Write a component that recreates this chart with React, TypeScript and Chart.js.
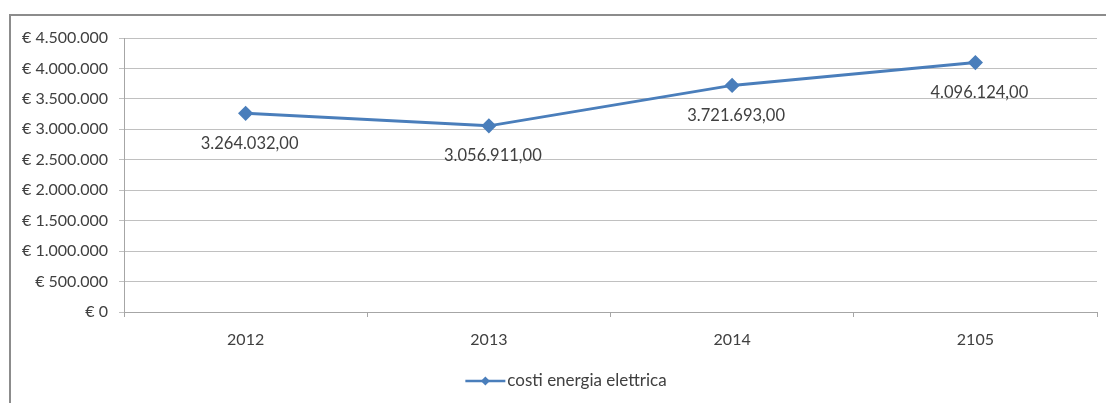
import React, { useEffect, useRef } from "react";
import { Chart, registerables } from "chart.js";

Chart.register(...registerables);

const categories: string[] = ["2012", "2013", "2014", "2105"];
const costs: number[] = [3264032, 3056911, 3721693, 4096124];
const seriesName = "costi energia elettrica";
const yMin = 0;
const yMax = 4500000;
const yStep = 500000;

const LINE_COLOR = "#4a7ebb";
const TEXT_COLOR = "#404040";
const FRAME_COLOR = "#8c8c8c";
const FONT = "Lato, 'Open Sans', sans-serif";

function groupIt(n: number): string {
  const s = Math.round(Math.abs(n)).toString();
  let out = "";
  for (let i = 0; i < s.length; i++) {
    if (i > 0 && (s.length - i) % 3 === 0) out += ".";
    out += s[i];
  }
  return (n < 0 ? "-" : "") + out;
}

function fmtDec(n: number): string {
  const whole = Math.trunc(n);
  const dec = Math.round((n - whole) * 100).toString().padStart(2, "0");
  return groupIt(whole) + "," + dec;
}

const framePlugin = {
  id: "frame",
  beforeDraw(chart: any) {
    const ctx = chart.ctx;
    ctx.save();
    ctx.fillStyle = "#ffffff";
    ctx.fillRect(0, 0, chart.width, chart.height);
    ctx.strokeStyle = FRAME_COLOR;
    ctx.lineWidth = 2;
    ctx.beginPath();
    ctx.moveTo(10, chart.height);
    ctx.lineTo(10, 15);
    ctx.lineTo(chart.width, 15);
    ctx.stroke();
    ctx.restore();
  },
};

const dataLabelPlugin = {
  id: "dataLabels",
  afterDatasetsDraw(chart: any) {
    const ctx = chart.ctx;
    const meta = chart.getDatasetMeta(0);
    ctx.save();
    ctx.font = `16.5px ${FONT}`;
    ctx.fillStyle = TEXT_COLOR;
    ctx.textAlign = "center";
    ctx.textBaseline = "middle";
    meta.data.forEach((pt: any, i: number) => {
      ctx.fillText(fmtDec(costs[i]), pt.x + 4, pt.y + 30);
    });
    ctx.restore();
  },
};

const legendPlugin = {
  id: "customLegend",
  afterDraw(chart: any) {
    const ctx = chart.ctx;
    const ds = chart.data.datasets[0];
    const label: string = ds.label;
    ctx.save();
    ctx.font = `17px ${FONT}`;
    const tw = ctx.measureText(label).width;
    const lineW = 40;
    const gap = 2;
    const total = lineW + gap + tw;
    const startX = chart.width / 2 + 13 - total / 2;
    const y = chart.chartArea.bottom + 69;
    ctx.strokeStyle = ds.borderColor;
    ctx.lineWidth = 2.5;
    ctx.beginPath();
    ctx.moveTo(startX, y);
    ctx.lineTo(startX + lineW, y);
    ctx.stroke();
    const cx = startX + lineW / 2;
    ctx.fillStyle = ds.borderColor;
    ctx.beginPath();
    ctx.moveTo(cx, y - 4.5);
    ctx.lineTo(cx + 4.5, y);
    ctx.lineTo(cx, y + 4.5);
    ctx.lineTo(cx - 4.5, y);
    ctx.closePath();
    ctx.fill();
    ctx.fillStyle = TEXT_COLOR;
    ctx.textAlign = "left";
    ctx.textBaseline = "middle";
    ctx.fillText(label, startX + lineW + gap, y);
    ctx.restore();
  },
};

export default function App() {
  const ref = useRef<HTMLCanvasElement | null>(null);

  useEffect(() => {
    if (!ref.current) return;
    const chart = new Chart(ref.current, {
      type: "line",
      data: {
        labels: categories,
        datasets: [
          {
            label: seriesName,
            data: costs,
            borderColor: LINE_COLOR,
            backgroundColor: LINE_COLOR,
            borderWidth: 3,
            pointStyle: "rectRot",
            pointRadius: 5.5,
            pointBackgroundColor: LINE_COLOR,
            pointBorderColor: LINE_COLOR,
            tension: 0,
          },
        ],
      },
      options: {
        responsive: false,
        animation: false,
        layout: { padding: { left: 0, right: 9, top: 38, bottom: 51 } },
        plugins: {
          tooltip: { enabled: false },
          legend: { display: false },
        },
        scales: {
          x: {
            offset: true,
            afterFit: (s: any) => {
              s.height = 40;
            },
            grid: {
              offset: true,
              drawOnChartArea: false,
              drawTicks: true,
              tickLength: 5,
              color: "#a6a6a6",
            },
            border: { display: true, color: "#a6a6a6", width: 1 },
            ticks: {
              color: TEXT_COLOR,
              padding: 13,
              font: { family: FONT, size: 16 },
            },
          },
          y: {
            min: yMin,
            max: yMax,
            afterFit: (s: any) => {
              s.width = 124;
            },
            grid: {
              color: "#c0c0c0",
              tickLength: 5,
              drawTicks: true,
            },
            border: { display: true, color: "#a6a6a6", width: 1 },
            ticks: {
              stepSize: yStep,
              color: TEXT_COLOR,
              padding: 11,
              font: { family: FONT, size: 16 },
              callback: (v: any) => "€ " + groupIt(Number(v)),
            },
          },
        },
      },
      plugins: [framePlugin, dataLabelPlugin, legendPlugin],
    });
    return () => chart.destroy();
  }, []);

  return (
    <div
      style={{
        position: "fixed",
        left: 0,
        top: 0,
        width: 1106,
        height: 403,
        background: "#ffffff",
        overflow: "hidden",
      }}
    >
      <canvas
        ref={ref}
        width={1106}
        height={403}
        style={{ position: "absolute", left: 0, top: 0 }}
      />
    </div>
  );
}
